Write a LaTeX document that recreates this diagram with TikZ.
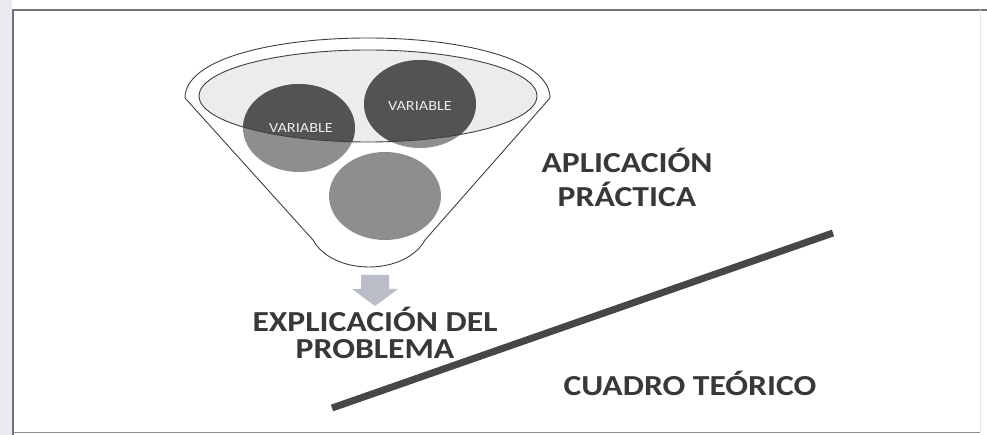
\documentclass[tikz,border=0pt]{standalone}
\usepackage{fontspec}
\setmainfont{Carlito}
\newfontfamily\capfont[FakeStretch=1.16]{Carlito}
\usepackage{xcolor}
\usepackage{tikz}
\usetikzlibrary{%
  shapes.geometric,
  positioning,
  calc}
\definecolor{rimfill}{HTML}{ECECEF}
\definecolor{circlight}{HTML}{8E8E8E}
\definecolor{circdark}{HTML}{535353}
\definecolor{inktext}{HTML}{383838}
\definecolor{arrowfill}{HTML}{B9BDC8}
\definecolor{sidestrip}{HTML}{E9EBF1}
\tikzset{
  %% Funnel outline and rim
  funnel/.style={draw=black!75, line width=0.9pt, fill=white},
  rim/.style={draw=black!75, line width=0.9pt},
  %% Variables inside the funnel
  varcirc/.style={
    ellipse, fill=circlight, inner sep=0pt,
    minimum width=112pt, minimum height=88pt},
  vartext/.style={font=\capfont\fontsize{14}{16}\selectfont, text=white!92!black},
  %% Captions
  caption/.style={
    align=center, text=inktext, inner sep=0pt,
    font=\capfont\fontsize{29}{30}\selectfont\bfseries},
  %% Down arrow
  downarrow/.style={fill=arrowfill},
  %% Theory line and frame
  theoryline/.style={line width=7pt, draw=black!72},
  framerule/.style={draw=black!55, line width=1.2pt},
}
\begin{document}
\begin{tikzpicture}[x=1pt, y=-1pt]
  \useasboundingbox (0,0) rectangle (987,435);

  %% Frame
  \fill[sidestrip] (0,0) rectangle (12,435);
  \draw[framerule] (13,435) |- (987,10);
  \draw[black!45, line width=0.8pt] (13,432) -- (980,432);
  \draw[black!10, line width=0.8pt] (980,10) -- (980,432);

  %% Funnel
  \draw[funnel] (185,98) .. controls (185,18) and (550,18) .. (550,98)
    -- (425,240) .. controls (405,276) and (333,276) .. (313,240) -- cycle;
  \fill[rimfill] (368,96) ellipse [x radius=169pt, y radius=46pt];

  %% Variables
  \node[varcirc] (varA) at (299,128) {};
  \node[varcirc] (varB) at (420,104) {};
  \node[varcirc] (varC) at (385,196) {};
  \begin{scope}
    \clip (368,96) ellipse [x radius=169pt, y radius=46pt];
    \fill[circdark] (varA.center) ellipse [x radius=56pt, y radius=44pt];
    \fill[circdark] (varB.center) ellipse [x radius=56pt, y radius=44pt];
  \end{scope}
  \draw[rim] (368,96) ellipse [x radius=169pt, y radius=46pt];
  \node[vartext] at ($(varA)+(2,0)$) {VARIABLE};
  \node[vartext] at ($(varB)+(0,2)$) {VARIABLE};

  %% Output of the funnel
  \coordinate (down) at (375,306);
  \fill[downarrow] (down) -- ++(-23,-17) -- ++(9,0) -- ++(0,-14)
    -- ++(28,0) -- ++(0,14) -- ++(9,0) -- cycle;
  \node[caption, below=1pt of down] (expl)
    {EXPLICACIÓN DEL\\[-3pt] PROBLEMA};

  %% Right side captions
  \node[caption] (aplic) at (627,177) {APLICACIÓN\\[4pt] PRÁCTICA};
  \coordinate (tlow)  at (332,408);
  \coordinate (thigh) at (833,233);
  \draw[theoryline] (tlow) -- (thigh);
  \node[caption] (cuadro) at (690,383) {CUADRO TEÓRICO};

\end{tikzpicture}
\end{document}
